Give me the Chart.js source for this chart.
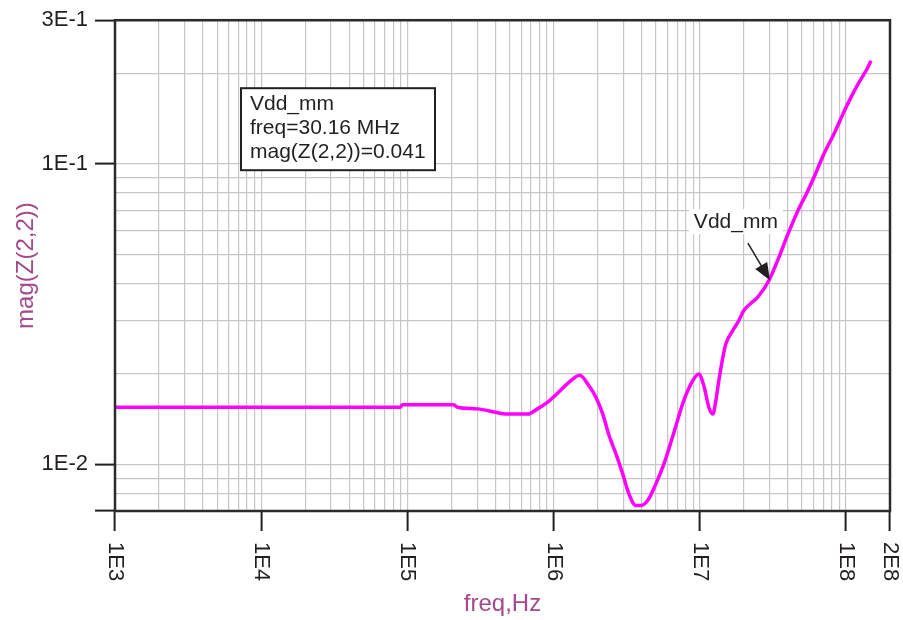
<!DOCTYPE html>
<html>
<head>
<meta charset="utf-8">
<script src="https://cdn.jsdelivr.net/npm/chart.js@4"></script>
<style>
  html,body{margin:0;padding:0;background:#fff;}
  #wrap{width:903px;height:620px;position:relative;}
</style>
</head>
<body>
<div id="wrap"><canvas id="zchart"></canvas></div>
<script>
// frequency (Hz) and |Z(2,2)|
const freq=[1e3,8.95e4,9.25e4,2.07e5,2.2e5,3.01e5,4.01e5,4.69e5,6.64e5,7.77e5,9.1e5,1.06e6,1.25e6,1.51e6,1.74e6,1.94e6,2.17e6,2.38e6,2.66e6,2.97e6,3.27e6,3.65e6,3.95e6,4.41e6,5.0e6,5.67e6,6.53e6,7.77e6,8.95e6,9.84e6,1.065e7,1.153e7,1.228e7,1.288e7,1.35e7,1.438e7,1.508e7,1.683e7,1.85e7,2.0e7,2.23e7,2.49e7,2.97e7,3.48e7,4.01e7,4.69e7,5.49e7,6.04e7,7.06e7,8.27e7,9.53e7,1.081e8,1.227e8,1.371e8,1.483e8];
const magZ=[0.0155,0.0155,0.0158,0.0158,0.0155,0.0153,0.0149,0.0147,0.0147,0.0153,0.0161,0.0172,0.0186,0.0198,0.0183,0.0168,0.0147,0.0126,0.0109,0.0093,0.0080,0.0073,0.0073,0.0076,0.0086,0.0100,0.0124,0.0163,0.0190,0.0200,0.0183,0.0155,0.0147,0.0163,0.0190,0.0227,0.0252,0.0279,0.0301,0.0325,0.0343,0.0360,0.0409,0.0489,0.0584,0.0698,0.0813,0.0901,0.1077,0.1256,0.1462,0.1661,0.1863,0.2037,0.2199];

// grid values and which of them carry a label
const xGrid=[1e3,2e3,3e3,4e3,5e3,6e3,7e3,8e3,9e3,1e4,2e4,3e4,4e4,5e4,6e4,7e4,8e4,9e4,1e5,2e5,3e5,4e5,5e5,6e5,7e5,8e5,9e5,1e6,2e6,3e6,4e6,5e6,6e6,7e6,8e6,9e6,1e7,2e7,3e7,4e7,5e7,6e7,7e7,8e7,9e7,1e8,2e8];
const xTickVals=[1e3,1e4,1e5,1e6,1e7,1e8,2e8];
const xTickLabels=['1E3','1E4','1E5','1E6','1E7','1E8','2E8'];
const yGrid=[7e-3,8e-3,9e-3,1e-2,2e-2,3e-2,4e-2,5e-2,6e-2,7e-2,8e-2,9e-2,1e-1,2e-1,3e-1];
const yTickVals=[7e-3,1e-2,1e-1,3e-1];
const yTickLabels=['','1E-2','1E-1','3E-1'];

const markerName='Vdd_mm';
const markerFreq=30.16e6;
const markerMag=0.041;
const markerLines=['Vdd_mm','freq=30.16 MHz','mag(Z(2,2))=0.041'];

const FONT='"Liberation Sans", Arial, sans-serif';
const INK='#231f20';
const TITLE='#a3498c';
const GRID='#c6c6c6';

function near(a,b){return Math.abs(a-b)/b<1e-6;}
function labelled(list,v){return list.some(t=>near(v,t));}

const frame={
  id:'frame',
  afterDraw(chart){
    const c=chart.ctx, a=chart.chartArea;
    const xs=chart.scales.x, ys=chart.scales.y;
    c.save();
    // plot frame
    c.strokeStyle='#2b2b2b';
    c.lineWidth=2.5;
    c.strokeRect(a.left,a.top,a.right-a.left,a.bottom-a.top);
    // x labels, turned clockwise
    c.fillStyle=INK;
    c.font='22px '+FONT;
    c.textAlign='left';
    c.textBaseline='middle';
    xTickVals.forEach((v,i)=>{
      const px=xs.getPixelForValue(v);
      c.save();
      c.translate(px,a.bottom+31);
      c.rotate(Math.PI/2);
      c.fillText(xTickLabels[i],0,0);
      c.restore();
    });
    // marker readout box
    const bx=a.left+126, by=a.top+68, bw=194, bh=82;
    c.fillStyle='#fff';
    c.fillRect(bx,by,bw,bh);
    c.strokeStyle='#231f20';
    c.lineWidth=2;
    c.strokeRect(bx,by,bw,bh);
    c.fillStyle=INK;
    c.font='21px '+FONT;
    markerLines.forEach((t,i)=>c.fillText(t,bx+9,by+16+i*24));
    // marker label and arrow
    const mx=xs.getPixelForValue(markerFreq), my=ys.getPixelForValue(markerMag);
    const lx=mx-34, ly=my-59;
    c.textAlign='center';
    const tw=c.measureText(markerName).width;
    c.fillStyle='#fff';
    c.fillRect(lx-tw/2-5,ly-12,tw+10,25);
    c.fillStyle=INK;
    c.fillText(markerName,lx,ly+1);
    const sx=mx-22, sy=my-37;
    const dx=mx-sx, dy=my-sy, len=Math.hypot(dx,dy), ux=dx/len, uy=dy/len;
    c.strokeStyle=INK;
    c.lineWidth=1.5;
    c.beginPath();
    c.moveTo(sx,sy);
    c.lineTo(mx-ux*14,my-uy*14);
    c.stroke();
    c.beginPath();
    c.moveTo(mx,my);
    c.lineTo(mx-ux*17-uy*7,my-uy*17+ux*7);
    c.lineTo(mx-ux*17+uy*7,my-uy*17-ux*7);
    c.closePath();
    c.fill();
    c.restore();
  }
};

new Chart(document.getElementById('zchart'),{
  type:'line',
  data:{
    datasets:[{
      label:markerName,
      data:freq.map((f,i)=>({x:f,y:magZ[i]})),
      borderColor:'#ff00ff',
      borderWidth:3.5,
      pointRadius:0,
      cubicInterpolationMode:'monotone',
      fill:false
    }]
  },
  options:{
    responsive:true,
    maintainAspectRatio:false,
    animation:false,
    events:[],
    layout:{padding:{left:0,top:20,right:13,bottom:0}},
    plugins:{legend:{display:false},tooltip:{enabled:false}},
    scales:{
      x:{
        type:'logarithmic',
        min:1e3,max:2e8,
        afterBuildTicks(s){s.ticks=xGrid.map(v=>({value:v}));},
        afterFit(s){s.height=109;},
        border:{display:false},
        grid:{
          color:GRID,lineWidth:1.2,
          drawTicks:true,tickLength:20,
          tickWidth:2,
          tickColor:ctx=>labelled(xTickVals,ctx.tick.value)?INK:'rgba(0,0,0,0)'
        },
        ticks:{display:false,autoSkip:false},
        title:{display:true,text:'freq,Hz',color:TITLE,font:{family:FONT,size:24},padding:{top:0,bottom:1}}
      },
      y:{
        type:'logarithmic',
        min:7e-3,max:3e-1,
        afterBuildTicks(s){s.ticks=yGrid.map(v=>({value:v}));},
        afterFit(s){s.width=115;},
        border:{display:false},
        grid:{
          color:GRID,lineWidth:1.2,
          drawTicks:true,tickLength:20,
          tickWidth:2,
          tickColor:ctx=>labelled(yTickVals,ctx.tick.value)?INK:'rgba(0,0,0,0)'
        },
        ticks:{
          autoSkip:false,
          padding:7,
          color:INK,
          font:{family:FONT,size:22},
          callback(v){
            const i=yTickVals.findIndex(t=>near(v,t));
            return i<0?'':yTickLabels[i];
          }
        },
        title:{display:true,text:'mag(Z(2,2))',color:TITLE,font:{family:FONT,size:24},padding:{top:12,bottom:0}}
      }
    }
  },
  plugins:[frame]
});
</script>
</body>
</html>
